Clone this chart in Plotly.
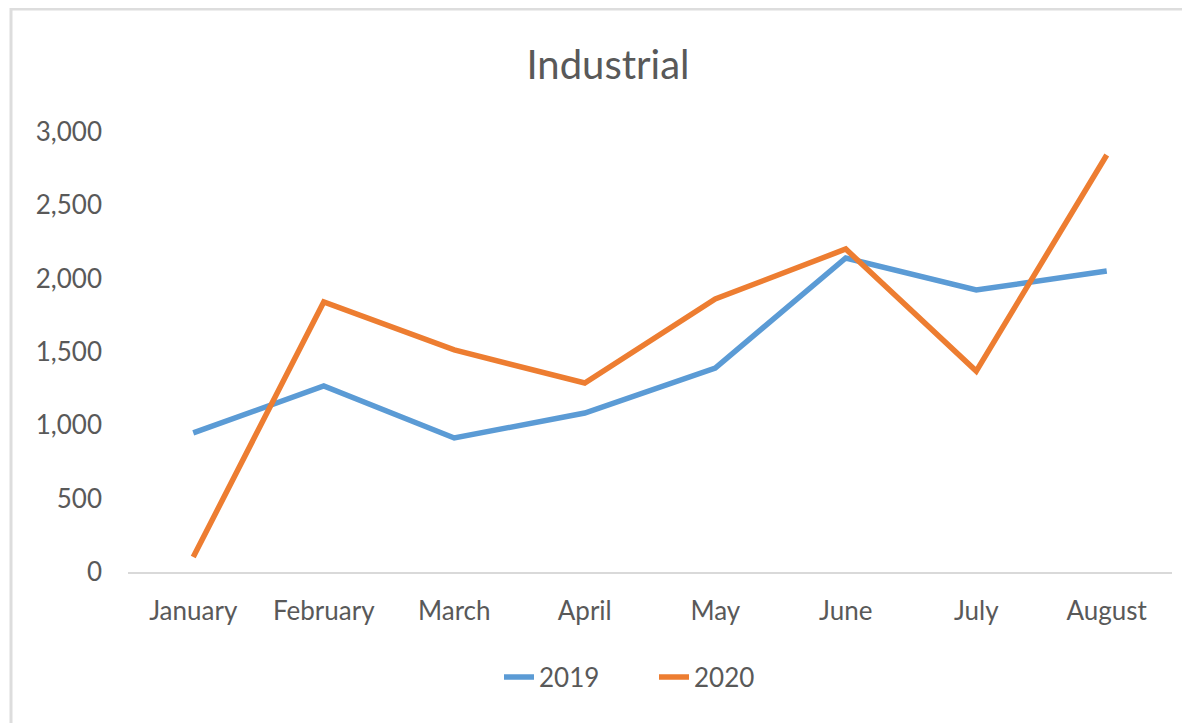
import plotly.graph_objects as go

months = ["January", "February", "March", "April", "May", "June", "July", "August"]
y2019 = [948, 1268, 914, 1084, 1391, 2141, 1923, 2052]
y2020 = [102, 1841, 1514, 1289, 1861, 2202, 1370, 2843]
y_ticks = [0, 500, 1000, 1500, 2000, 2500, 3000]
y_tick_labels = ["0", "500", "1,000", "1,500", "2,000", "2,500", "3,000"]

W, H = 1190, 723
OFF = 8  # page body margin
L, T = 128 - OFF, 132 - OFF
R = W - (1172 - OFF)
B = H - (572 - OFF)
pw, ph = W - L - R, H - T - B

def px_x(x):
    return (x - OFF - L) / pw

def px_y(y):
    return (H - B - (y - OFF)) / ph

font_family = "Lato, Open Sans, sans-serif"
gray = "#595959"

fig = go.Figure()
fig.add_trace(go.Scatter(x=months, y=y2019, name="2019", mode="lines",
                         line=dict(color="#5B9BD5", width=5.5)))
fig.add_trace(go.Scatter(x=months, y=y2020, name="2020", mode="lines",
                         line=dict(color="#ED7D31", width=5.5)))

fig.update_layout(
    width=W, height=H,
    margin=dict(l=L, r=R, t=T, b=B, autoexpand=False),
    paper_bgcolor="white", plot_bgcolor="white",
    font=dict(family=font_family, color=gray, size=22),
    title=dict(text="Industrial", x=(608 - OFF) / W, xref="container", xanchor="center",
               y=1 - (65 - OFF) / H, yref="container", yanchor="middle",
               font=dict(size=40, color=gray, family=font_family)),
    showlegend=True,
    legend=dict(orientation="h", x=px_x(499), xanchor="left",
                y=px_y(677), yanchor="middle", font=dict(size=26, color=gray),
                entrywidth=110, entrywidthmode="pixels",
                bgcolor="rgba(0,0,0,0)"),
    xaxis=dict(range=[-0.5, 7.5], showgrid=False, zeroline=False,
               showline=True, linecolor="#D9D9D9", linewidth=2,
               ticks="", ticklabelstandoff=15,
               tickfont=dict(size=26, color=gray), fixedrange=True),
    yaxis=dict(range=[0, 3000], tickvals=y_ticks, ticktext=y_tick_labels,
               showgrid=False, zeroline=False, showline=False,
               ticks="", ticklabelstandoff=25,
               tickfont=dict(size=26, color=gray), fixedrange=True),
    shapes=[dict(type="rect", xref="paper", yref="paper",
                 x0=px_x(11), x1=px_x(1205), y0=px_y(740), y1=px_y(9),
                 line=dict(color="#DDDDDD", width=3), fillcolor="rgba(0,0,0,0)",
                 layer="below")],
)

fig.write_html("out.html")
